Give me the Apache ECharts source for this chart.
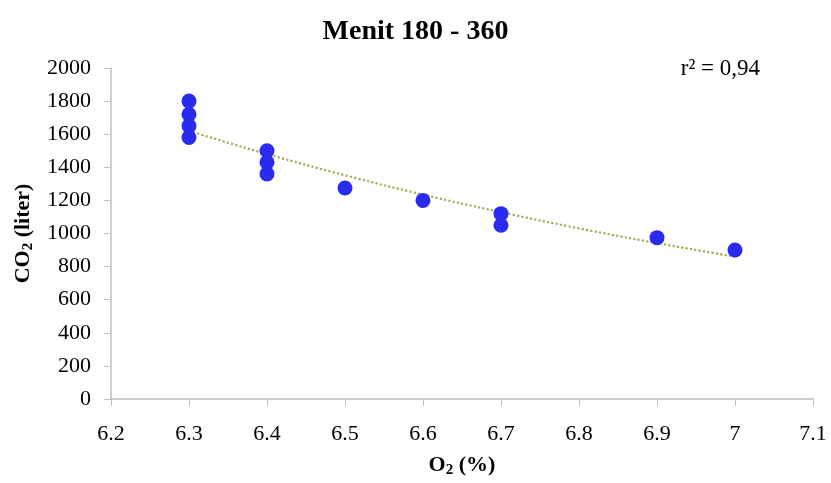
<!DOCTYPE html>
<html>
<head>
<meta charset="utf-8">
<script src="https://cdn.jsdelivr.net/npm/echarts@6/dist/echarts.min.js"></script>
<style>html,body{margin:0;padding:0;background:#fff}#c{width:831px;height:483px}</style>
</head>
<body>
<div id="c"></div>
<script>
// Data
const o2Values = [6.3, 6.3, 6.3, 6.3, 6.4, 6.4, 6.4, 6.5, 6.6, 6.7, 6.7, 6.9, 7.0];
const co2Values = [1800, 1720, 1650, 1580, 1500, 1430, 1360, 1275, 1200, 1120, 1050, 975, 900];
// Trendline
const trendX = [6.3, 6.4, 6.5, 6.6, 6.7, 6.8, 6.9, 7.0];
const trendY = [1620, 1480, 1352, 1235, 1129, 1031, 942, 860];
const titleText = 'Menit 180 - 360';
const r2Text = 'r\u00b2 = 0,94';

const serif = '"Liberation Serif", "Times New Roman", serif';
const nameRich = {
  b: { fontFamily: serif, fontSize: 22, fontWeight: 'bold', color: '#000' },
  s: { fontFamily: serif, fontSize: 15, fontWeight: 'bold', color: '#000', verticalAlign: 'bottom', padding: [10, 0, 0, 0] }
};
const chart = echarts.init(document.getElementById('c'));
chart.setOption({
  animation: false,
  title: {
    text: titleText, left: 'center', top: 13,
    textStyle: { fontFamily: serif, fontSize: 28, fontWeight: 'bold', color: '#000' }
  },
  graphic: [{
    type: 'text', right: 71, top: 57,
    style: { text: r2Text, font: '23px ' + serif, fill: '#000' }
  }],
  grid: { left: 111, right: 18, top: 68, bottom: 82 },
  xAxis: {
    type: 'value', min: 6.2, max: 7.1, interval: 0.1,
    name: '{b|O}{s|2}{b| (%)}', nameLocation: 'middle', nameGap: 54,
    nameTextStyle: { rich: nameRich },
    axisLine: { show: true, lineStyle: { color: '#bfbfbf', width: 1.5 } },
    axisTick: { show: true, length: 7, lineStyle: { color: '#bfbfbf' } },
    splitLine: { show: false },
    axisLabel: {
      fontFamily: serif, fontSize: 22, color: '#000', margin: 24,
      formatter: v => String(Math.round(v * 10) / 10)
    }
  },
  yAxis: {
    type: 'value', min: 0, max: 2000, interval: 200,
    name: '{b|CO}{s|2}{b| (liter)}', nameLocation: 'middle', nameGap: 67, nameRotate: 90,
    nameTextStyle: { rich: nameRich },
    axisLine: { show: true, lineStyle: { color: '#bfbfbf', width: 1.5 } },
    axisTick: { show: true, length: 7, lineStyle: { color: '#bfbfbf' } },
    splitLine: { show: false },
    axisLabel: { fontFamily: serif, fontSize: 22, color: '#000', margin: 20, formatter: v => String(v) }
  },
  series: [
    {
      type: 'line', data: trendX.map((x, i) => [x, trendY[i]]),
      smooth: true, showSymbol: false, symbol: 'none',
      lineStyle: { color: '#a3ad55', width: 2.2, type: 'dotted' },
      z: 1
    },
    {
      type: 'scatter', data: o2Values.map((x, i) => [x, co2Values[i]]),
      symbolSize: 15,
      itemStyle: { color: '#2b2bf0', opacity: 1 },
      z: 2
    }
  ]
});
</script>
</body>
</html>
